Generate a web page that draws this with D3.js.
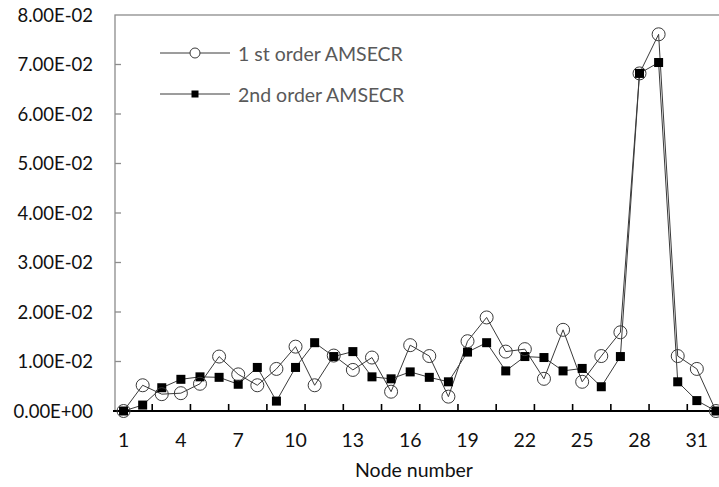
<!DOCTYPE html>
<html>
<head>
<meta charset="utf-8">
<script src="https://cdn.jsdelivr.net/npm/d3@7"></script>
<style>
  body { margin: 0; background: #fff; }
  text { font-family: Lato, "Liberation Sans", sans-serif; }
</style>
</head>
<body>
<svg id="chart" width="719" height="487"></svg>
<script>
// node numbers along the x axis
var nodes = d3.range(1, 33);

// 1 st order AMSECR (open circles)
var firstOrder = [
    0, 0.0052, 0.0034, 0.0036, 0.0055, 0.0110, 0.0074, 0.0052,
    0.0085, 0.0130, 0.0052, 0.0112, 0.0083, 0.0108, 0.0039, 0.0133,
    0.0111, 0.0029, 0.0141, 0.0189, 0.0120, 0.0125, 0.0065, 0.0164,
    0.0059, 0.0111, 0.0159, 0.0682, 0.0761, 0.0111, 0.0085, 0
];

// 2nd order AMSECR (filled squares)
var secondOrder = [
    0, 0.0012, 0.0047, 0.0064, 0.0069, 0.0068, 0.0054, 0.0088,
    0.0020, 0.0088, 0.0138, 0.0110, 0.0120, 0.0069, 0.0065, 0.0079,
    0.0068, 0.0059, 0.0119, 0.0138, 0.0081, 0.0110, 0.0108, 0.0081,
    0.0086, 0.0049, 0.0110, 0.0682, 0.0704, 0.0059, 0.0021, 0
];

var yTicks = [0, 0.01, 0.02, 0.03, 0.04, 0.05, 0.06, 0.07, 0.08];
var xTickLabels = [1, 4, 7, 10, 13, 16, 19, 22, 25, 28, 31];
var seriesNames = ['1 st order AMSECR', '2nd order AMSECR'];

(function () {
    var svg = d3.select('#chart'),
        plotLeft = 115,
        plotRight = 725.5,   // plot runs past the right edge of the picture
        plotTop = 15,
        plotBottom = 411,
        fontSize = 19.5,
        lineColor = '#3a3a3a';

    var x = d3.scaleBand().domain(nodes).range([plotLeft - 1, plotRight]),
        y = d3.scaleLinear().domain([0, 0.08]).range([plotBottom, plotTop]),
        xc = function (n) { return x(n) + x.bandwidth() / 2; };

    // excel style scientific labels, e.g. 1.00E-02
    var sci = function (v) {
        var parts = d3.format('.2e')(v).split('e'),
            exp = +parts[1],
            sign = exp < 0 ? '-' : '+';
        return parts[0] + 'E' + sign + d3.format('02d')(Math.abs(exp));
    };

    // plot frame (top and right) and left axis
    svg.append('rect')
        .attr('x', plotLeft).attr('y', plotTop)
        .attr('width', plotRight - plotLeft).attr('height', plotBottom - plotTop)
        .attr('fill', 'none').attr('stroke', '#8c8c8c').attr('stroke-width', 1.3);

    // y ticks pointing inward
    svg.append('g').selectAll('line')
        .data(yTicks.slice(1, -1))
        .enter().append('line')
        .attr('x1', plotLeft).attr('x2', plotLeft + 6)
        .attr('y1', function (d) { return y(d); })
        .attr('y2', function (d) { return y(d); })
        .attr('stroke', '#8c8c8c').attr('stroke-width', 1.3);

    svg.append('g').selectAll('text')
        .data(yTicks)
        .enter().append('text')
        .attr('x', 93)
        .attr('y', function (d) { return y(d); })
        .attr('dy', '0.36em')
        .attr('text-anchor', 'end')
        .attr('font-size', 18.5)
        .attr('fill', '#111')
        .text(sci);

    // x ticks between every second category
    var boundaries = nodes.filter(function (n) { return n % 2 === 0 && n < 32; });
    svg.append('g').selectAll('line')
        .data(boundaries)
        .enter().append('line')
        .attr('x1', function (n) { return x(n) + x.bandwidth(); })
        .attr('x2', function (n) { return x(n) + x.bandwidth(); })
        .attr('y1', plotBottom).attr('y2', plotBottom - 7)
        .attr('stroke', '#000').attr('stroke-width', 1.6);

    svg.append('line')
        .attr('x1', plotLeft - 2).attr('x2', 719)
        .attr('y1', plotBottom).attr('y2', plotBottom)
        .attr('stroke', '#000').attr('stroke-width', 2);

    svg.append('g').selectAll('text')
        .data(xTickLabels)
        .enter().append('text')
        .attr('x', xc)
        .attr('y', 447)
        .attr('text-anchor', 'middle')
        .attr('font-size', fontSize)
        .attr('fill', '#111')
        .text(function (d) { return d; });

    svg.append('text')
        .attr('x', 414).attr('y', 477)
        .attr('text-anchor', 'middle')
        .attr('font-size', fontSize)
        .attr('fill', '#111')
        .text('Node number');

    var line = d3.line()
        .x(function (d, i) { return xc(nodes[i]); })
        .y(function (d) { return y(d); });

    svg.append('path').datum(firstOrder)
        .attr('d', line).attr('fill', 'none')
        .attr('stroke', lineColor).attr('stroke-width', 1);

    svg.append('path').datum(secondOrder)
        .attr('d', line).attr('fill', 'none')
        .attr('stroke', lineColor).attr('stroke-width', 1);

    svg.append('g').selectAll('rect')
        .data(secondOrder)
        .enter().append('rect')
        .attr('x', function (d, i) { return xc(nodes[i]) - 4.5; })
        .attr('y', function (d) { return y(d) - 4.5; })
        .attr('width', 9).attr('height', 9)
        .attr('fill', '#000');

    svg.append('g').selectAll('circle')
        .data(firstOrder)
        .enter().append('circle')
        .attr('cx', function (d, i) { return xc(nodes[i]); })
        .attr('cy', function (d) { return y(d); })
        .attr('r', 6.5)
        .attr('fill', 'none')
        .attr('stroke', lineColor).attr('stroke-width', 1);

    // legend
    var legend = svg.append('g').selectAll('g')
        .data(seriesNames)
        .enter().append('g')
        .attr('transform', function (d, i) { return 'translate(0,' + (53 + i * 41) + ')'; });

    legend.append('line')
        .attr('x1', 160).attr('x2', 230)
        .attr('stroke', lineColor).attr('stroke-width', 1);

    legend.filter(function (d, i) { return i === 0; })
        .append('circle')
        .attr('cx', 195).attr('r', 5)
        .attr('fill', '#fff').attr('stroke', lineColor);

    legend.filter(function (d, i) { return i === 1; })
        .append('rect')
        .attr('x', 191.5).attr('y', -3.5)
        .attr('width', 7).attr('height', 7)
        .attr('fill', '#000');

    legend.append('text')
        .attr('x', 238).attr('dy', '0.4em')
        .attr('font-size', fontSize)
        .attr('fill', '#595959')
        .text(function (d) { return d; });
}());
</script>
</body>
</html>
